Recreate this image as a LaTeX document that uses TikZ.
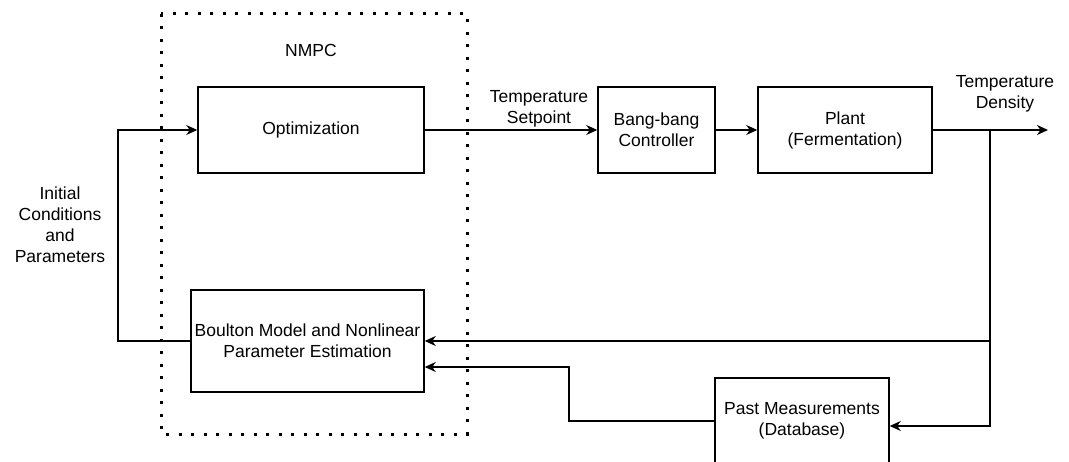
\documentclass[tikz,border=0pt]{standalone}
\usepackage{fontspec}
\setmainfont{Liberation Sans}
\usetikzlibrary{arrows.meta}
\begin{document}
\begin{tikzpicture}[x=1pt,y=-1pt,
  txt/.style={font=\fontsize{17.5}{21}\selectfont, align=center, text=black},
  blk/.style={txt, draw=black, line width=1.5pt, inner sep=0pt, fill=white},
  line/.style={line width=1.5pt, draw=black},
  conn/.style={line, -{Stealth[length=11pt,width=10pt,inset=3.5pt]}},
  dotbox/.style={draw=black, line width=3pt, dash pattern=on 3pt off 9.5pt}
]
\useasboundingbox (0,0) rectangle (1069,462);
% dotted NMPC region
\draw[dotbox] (161,14) rectangle (467,434);
\node[txt] (nmpc) at (311,50) {NMPC};
% blocks
\node[blk, minimum width=226pt, minimum height=86pt] (opt) at (311,130) {Optimization};
\node[blk, minimum width=233pt, minimum height=102pt] (bm) at (307.5,341) {Boulton Model and Nonlinear\\Parameter Estimation};
\node[blk, minimum width=117pt, minimum height=86pt] (bang) at (656.5,130) {Bang-bang\\Controller};
\node[blk, minimum width=174pt, minimum height=86pt] (plant) at (845,130) {Plant\\(Fermentation)};
\node[blk, minimum width=174pt, minimum height=86pt] (past) at (802,421) {Past Measurements\\(Database)};
% labels
\node[txt] (tsp) at (539,109) {Temperature\\Setpoint};
\node[txt] (tden) at (1005,94) {Temperature\\Density};
\node[txt] (icp) at (60,225) {Initial\\Conditions\\and\\Parameters};
% coordinates
\coordinate (out) at (1048,130);
\coordinate (j) at (990,130);
\coordinate (jb) at (990,341);
\coordinate (jp) at (990,426);
\coordinate (lx) at (118,341);
\coordinate (lt) at (118,130);
\coordinate (pa) at (569,421);
\coordinate (pb) at (569,367);
% connectors
\draw[conn] (opt.east) -- (bang.west);
\draw[conn] (bang.east) -- (plant.west);
\draw[conn] (plant.east) -- (out);
\draw[conn] (j) -- (jp) -- (jp -| past.east);
\draw[conn] (jb) -- (jb -| bm.east);
\draw[conn] (past.west |- pa) -- (pa) -- (pb) -- (pb -| bm.east);
\draw[conn] (bm.west) -- (lx) -- (lt) -- (opt.west);
\end{tikzpicture}
\end{document}
